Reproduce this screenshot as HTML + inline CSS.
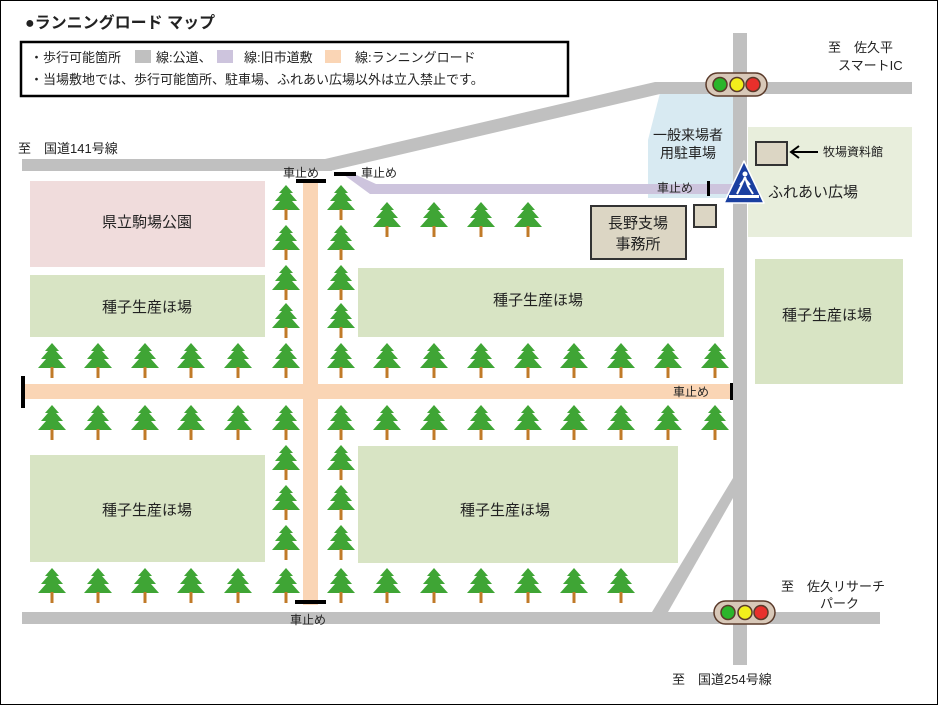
<!DOCTYPE html>
<html><head><meta charset="utf-8"><style>
html,body{margin:0;padding:0;background:#fff}
svg{display:block}
text{font-family:"Liberation Sans","Noto Sans CJK JP",sans-serif;fill:#222}
</style></head><body>
<svg width="938" height="705" viewBox="0 0 938 705" xmlns="http://www.w3.org/2000/svg">
<defs>
<g id="t">
<polygon points="15,0 22,8 19,8 26,16 21,16 29,25 1,25 9,16 4,16 11,8 8,8" fill="#3fa535"/>
<rect x="13.5" y="24" width="3" height="11" fill="#c07a28"/>
</g>
</defs>
<rect x="0.5" y="0.5" width="937" height="704" fill="#fff" stroke="#000"/>
<text x="25" y="28" font-size="16" font-weight="bold">●ランニングロード マップ</text>
<rect x="21" y="42" width="547" height="54" fill="#fff" stroke="#000" stroke-width="2.5"/>
<text x="30" y="62" font-size="13">・歩行可能箇所</text>
<rect x="135" y="50" width="16" height="13" fill="#c0c0c0"/><text x="156" y="62" font-size="13">線:公道、</text>
<rect x="217" y="50" width="16" height="13" fill="#cdc4dd"/><text x="244" y="62" font-size="13">線:旧市道敷</text>
<rect x="325" y="50" width="16" height="13" fill="#fad5b5"/><text x="355" y="62" font-size="13">線:ランニングロード</text>
<text x="30" y="84" font-size="13">・当場敷地では、歩行可能箇所、駐車場、ふれあい広場以外は立入禁止です。</text>

<!-- areas -->
<polygon points="660,93 733,93 733,198 648,198 648,140" fill="#d8eaf2"/>
<rect x="748" y="127" width="164" height="110" fill="#e8eedc"/>
<rect x="30" y="181" width="235" height="86" fill="#f0dcdc"/>
<rect x="30" y="275" width="235" height="62" fill="#d8e4c4"/>
<rect x="358" y="268" width="366" height="69" fill="#d8e4c4"/>
<rect x="755" y="259" width="148" height="125" fill="#d8e4c4"/>
<rect x="30" y="455" width="235" height="107" fill="#d8e4c4"/>
<rect x="358" y="446" width="320" height="117" fill="#d8e4c4"/>

<!-- roads -->
<g fill="#c0c0c0">
<rect x="22" y="159" width="310" height="12"/>
<polygon points="325,159 655,82 912,82 912,94 660,94 330,171"/>
<rect x="733" y="33" width="14" height="632"/>
<rect x="22" y="612" width="858" height="12"/>
<polygon points="652,612 733,478 733,498 668,612"/>
</g>
<polygon points="340,172 350,172 376,184 735,184 735,194 370,194" fill="#cdc4dd"/>
<rect x="303" y="183" width="15" height="422" fill="#fad5b5"/>
<rect x="22" y="384" width="711" height="15" fill="#fad5b5"/>

<!-- car stops -->
<g fill="#000">
<rect x="296" y="179" width="30" height="4"/>
<rect x="334" y="172" width="22" height="4"/>
<rect x="707" y="181" width="3" height="15"/>
<rect x="21" y="376" width="4" height="32"/>
<rect x="730" y="383" width="3" height="17"/>
<rect x="295" y="600" width="31" height="4"/>
</g>
<g font-size="12">
<text x="283" y="177">車止め</text>
<text x="361" y="177">車止め</text>
<text x="657" y="192">車止め</text>
<text x="673" y="396">車止め</text>
<text x="290" y="624">車止め</text>
</g>

<!-- buildings -->
<rect x="591" y="206" width="95" height="53" fill="#dcd6c4" stroke="#333" stroke-width="2"/>
<text x="638" y="228" font-size="15" text-anchor="middle">長野支場</text>
<text x="638" y="249" font-size="15" text-anchor="middle">事務所</text>
<rect x="694" y="205" width="22" height="22" fill="#dcd6c4" stroke="#333" stroke-width="2"/>
<rect x="756" y="142" width="31" height="23" fill="#dcd6c4" stroke="#333" stroke-width="2"/>
<line x1="791" y1="152" x2="818" y2="152" stroke="#000" stroke-width="2"/>
<polyline points="799,146 791,152 799,158" fill="none" stroke="#000" stroke-width="2"/>
<text x="823" y="156" font-size="12">牧場資料館</text>
<text x="688" y="140" font-size="14" text-anchor="middle">一般来場者</text>
<text x="688" y="158" font-size="14" text-anchor="middle">用駐車場</text>
<text x="768" y="197" font-size="15">ふれあい広場</text>

<!-- labels -->
<g font-size="15" text-anchor="middle">
<text x="147" y="227">県立駒場公園</text>
<text x="147" y="312">種子生産ほ場</text>
<text x="538" y="305">種子生産ほ場</text>
<text x="827" y="320">種子生産ほ場</text>
<text x="147" y="515">種子生産ほ場</text>
<text x="505" y="515">種子生産ほ場</text>
</g>
<g font-size="13">
<text x="18" y="153">至　国道141号線</text>
<text x="828" y="52">至　佐久平</text>
<text x="838" y="70">スマートIC</text>
<text x="781" y="591">至　佐久リサーチ</text>
<text x="820" y="608">パーク</text>
<text x="672" y="684">至　国道254号線</text>
</g>

<!-- traffic lights -->
<g stroke="#5a3a2a" stroke-width="1.5">
<rect x="706" y="73" width="61" height="23" rx="11.5" fill="#d8c8b8"/>
<circle cx="720" cy="84.5" r="7" fill="#2bb52b"/><circle cx="737" cy="84.5" r="7" fill="#f2ef1c"/><circle cx="753" cy="84.5" r="7" fill="#e8302c"/>
<rect x="714" y="601" width="61" height="23" rx="11.5" fill="#d8c8b8"/>
<circle cx="728" cy="612.5" r="7" fill="#2bb52b"/><circle cx="745" cy="612.5" r="7" fill="#f2ef1c"/><circle cx="761" cy="612.5" r="7" fill="#e8302c"/>
</g>
<!-- pedestrian sign -->
<polygon points="744,161 764,203 724,203" fill="#1a3fa0" stroke="#fff" stroke-width="1.5" stroke-linejoin="round"/>
<rect x="729" y="195" width="30" height="3" fill="#fff"/>
<circle cx="745" cy="174" r="2.5" fill="#fff"/>
<path d="M745,177 L741,186 L737,194 M745,177 L748,186 L753,194 M744,180 L740,185 M746,180 L750,185" stroke="#fff" stroke-width="2" fill="none"/>

<!-- trees -->
<g>
<use href="#t" x="271" y="185"/><use href="#t" x="326" y="185"/>
<use href="#t" x="271" y="225"/><use href="#t" x="326" y="225"/>
<use href="#t" x="271" y="265"/><use href="#t" x="326" y="265"/>
<use href="#t" x="271" y="303"/><use href="#t" x="326" y="303"/>
<use href="#t" x="372" y="202"/><use href="#t" x="419" y="202"/><use href="#t" x="466" y="202"/><use href="#t" x="513" y="202"/>
<use href="#t" x="37" y="343"/><use href="#t" x="83" y="343"/><use href="#t" x="130" y="343"/><use href="#t" x="176" y="343"/><use href="#t" x="223" y="343"/><use href="#t" x="271" y="343"/><use href="#t" x="326" y="343"/><use href="#t" x="372" y="343"/><use href="#t" x="419" y="343"/><use href="#t" x="466" y="343"/><use href="#t" x="513" y="343"/><use href="#t" x="559" y="343"/><use href="#t" x="606" y="343"/><use href="#t" x="653" y="343"/><use href="#t" x="700" y="343"/>
<use href="#t" x="37" y="405"/><use href="#t" x="83" y="405"/><use href="#t" x="130" y="405"/><use href="#t" x="176" y="405"/><use href="#t" x="223" y="405"/><use href="#t" x="271" y="405"/><use href="#t" x="326" y="405"/><use href="#t" x="372" y="405"/><use href="#t" x="419" y="405"/><use href="#t" x="466" y="405"/><use href="#t" x="513" y="405"/><use href="#t" x="559" y="405"/><use href="#t" x="606" y="405"/><use href="#t" x="653" y="405"/><use href="#t" x="700" y="405"/>
<use href="#t" x="271" y="445"/><use href="#t" x="326" y="445"/>
<use href="#t" x="271" y="485"/><use href="#t" x="326" y="485"/>
<use href="#t" x="271" y="525"/><use href="#t" x="326" y="525"/>
<use href="#t" x="37" y="568"/><use href="#t" x="83" y="568"/><use href="#t" x="130" y="568"/><use href="#t" x="176" y="568"/><use href="#t" x="223" y="568"/><use href="#t" x="271" y="568"/><use href="#t" x="326" y="568"/><use href="#t" x="372" y="568"/><use href="#t" x="419" y="568"/><use href="#t" x="466" y="568"/><use href="#t" x="513" y="568"/><use href="#t" x="559" y="568"/><use href="#t" x="606" y="568"/>
</g>
</svg>
</body></html>
